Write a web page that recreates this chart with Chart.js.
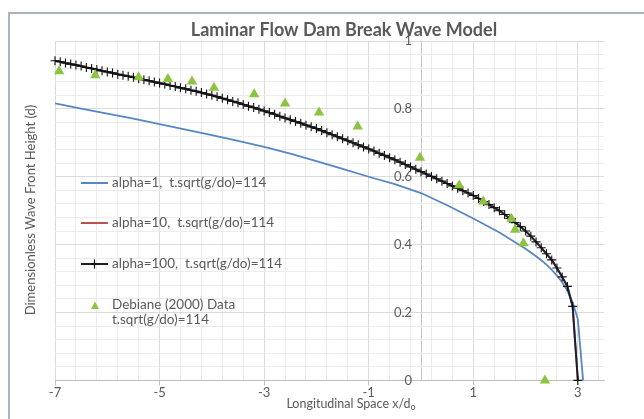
<!DOCTYPE html>
<html>
<head>
<meta charset="utf-8">
<title>Laminar Flow Dam Break Wave Model</title>
<script src="https://cdn.jsdelivr.net/npm/chart.js@4.4.1/dist/chart.umd.min.js"></script>
<style>
    html, body { margin: 0; padding: 0; background: #fff; }
    #wrap { position: relative; width: 644px; height: 419px; overflow: hidden; }
    #frame { position: absolute; left: 8px; top: 12px; width: 700px; height: 500px;
             border-left: 2px solid #a9b4c0; border-top: 2px solid #a9b4c0; }
    #damChart { position: absolute; left: 0; top: 0; }
</style>
</head>
<body>
<div id="wrap">
    <div id="frame"></div>
    <canvas id="damChart" width="644" height="419"></canvas>
</div>
<script>
// Longitudinal positions x/do of the model curves
var modelX = [-7.0, -6.9, -6.8, -6.7, -6.6, -6.5, -6.4, -6.3, -6.2, -6.1,
    -6.0, -5.9, -5.8, -5.7, -5.6, -5.5, -5.4, -5.3, -5.2, -5.1,
    -5.0, -4.9, -4.8, -4.7, -4.6, -4.5, -4.4, -4.3, -4.2, -4.1,
    -4.0, -3.9, -3.8, -3.7, -3.6, -3.5, -3.4, -3.3, -3.2, -3.1,
    -3.0, -2.9, -2.8, -2.7, -2.6, -2.5, -2.4, -2.3, -2.2, -2.1,
    -2.0, -1.9, -1.8, -1.7, -1.6, -1.5, -1.4, -1.3, -1.2, -1.1,
    -1.0, -0.9, -0.8, -0.7, -0.6, -0.5, -0.4, -0.3, -0.2, -0.1,
    0.0, 0.1, 0.2, 0.3, 0.4, 0.5, 0.6, 0.7, 0.8, 0.9,
    1.0, 1.1, 1.2, 1.3, 1.4, 1.5, 1.6, 1.7, 1.8, 1.9,
    2.0, 2.1, 2.2, 2.3, 2.4, 2.5, 2.6, 2.7, 2.8, 2.9,
    3.0];

// alpha=100 (alpha=10 lies underneath it)
var alpha100Y = [0.942, 0.939, 0.935, 0.932, 0.929, 0.926, 0.922, 0.919, 0.916, 0.912,
    0.909, 0.906, 0.902, 0.899, 0.896, 0.893, 0.889, 0.886, 0.883, 0.879,
    0.876, 0.873, 0.869, 0.866, 0.862, 0.859, 0.855, 0.852, 0.848, 0.844,
    0.840, 0.836, 0.831, 0.827, 0.822, 0.818, 0.813, 0.808, 0.804, 0.799,
    0.794, 0.789, 0.784, 0.778, 0.773, 0.768, 0.763, 0.758, 0.752, 0.747,
    0.742, 0.736, 0.730, 0.724, 0.718, 0.712, 0.706, 0.700, 0.694, 0.688,
    0.682, 0.676, 0.669, 0.663, 0.656, 0.650, 0.643, 0.636, 0.629, 0.622,
    0.615, 0.608, 0.601, 0.594, 0.587, 0.580, 0.573, 0.566, 0.559, 0.552,
    0.545, 0.536, 0.527, 0.518, 0.509, 0.500, 0.489, 0.477, 0.465, 0.453,
    0.440, 0.425, 0.408, 0.391, 0.373, 0.355, 0.331, 0.305, 0.277, 0.218,
    0];
var alpha10Y = alpha100Y;

// alpha=1
var alpha1X = [-7, -6.5, -6, -5.5, -5, -4.5, -4, -3.5, -3, -2.5, -2, -1.5, -1, -0.5,
    0, 0.5, 1.0, 1.5, 2.0, 2.1, 2.2, 2.3, 2.4, 2.5, 2.6, 2.7, 2.8, 2.9, 3.0, 3.1];
var alpha1Y = [0.816, 0.801, 0.786, 0.771, 0.755, 0.739, 0.723, 0.706, 0.688, 0.668, 0.646, 0.623, 0.600, 0.578,
    0.552, 0.516, 0.477, 0.436, 0.388, 0.377, 0.366, 0.354, 0.341, 0.326, 0.309, 0.289, 0.264, 0.230, 0.180, 0];

// Debiane (2000) measurements
var debianeX = [-6.92, -6.23, -5.40, -4.84, -4.38, -3.96, -3.19, -2.60, -1.95, -1.21,
    -0.02, 0.73, 1.19, 1.73, 1.80, 1.96, 2.37];
var debianeY = [0.911, 0.899, 0.893, 0.888, 0.881, 0.862, 0.843, 0.816, 0.789, 0.748,
    0.656, 0.575, 0.527, 0.476, 0.444, 0.404, 0];

// axis ticks / gridlines (0 is the vertical axis line)
var xGrid = [-7, -6.6, -6.2, -5.8, -5.4, -5, -4.6, -4.2, -3.8, -3.4, -3, -2.6, -2.2, -1.8,
    -1.4, -1, -0.6, -0.2, 0, 0.2, 0.6, 1, 1.4, 1.8, 2.2, 2.6, 3, 3.4];
var xLabels = [-7, -5, -3, -1, 1, 3];
var yLabels = [0, 0.2, 0.4, 0.6, 0.8, 1];

var seriesNames = ['alpha=1,  t.sqrt(g/do)=114', 'alpha=10,  t.sqrt(g/do)=114',
    'alpha=100,  t.sqrt(g/do)=114', 'Debiane (2000) Data'];

var FONT = 'Lato, "Open Sans", "DejaVu Sans", sans-serif';
var TEXT = '#595959';

function points(xs, ys) {
    return xs.map(function(x, i) { return { x: x, y: ys[i] }; });
}
function isMajorX(v) {
    return xLabels.some(function(m) { return Math.abs(m - v) < 1e-6; });
}
function isMajorY(v) {
    return yLabels.some(function(m) { return Math.abs(m - v) < 1e-6; });
}

// Title, axis titles and the floating legend
var overlay = {
    id: 'overlay',
    afterDraw: function(chart) {
        var c = chart.ctx;
        var ds = chart.data.datasets;
        c.save();
        c.fillStyle = TEXT;
        c.textBaseline = 'middle';

        c.font = 'bold 18px ' + FONT;
        c.textAlign = 'center';
        c.fillText('Laminar Flow Dam Break Wave Model', 344, 30);

        // y title
        c.save();
        c.translate(31, 210);
        c.rotate(-Math.PI / 2);
        c.font = '13px ' + FONT;
        c.fillText('Dimensionless Wave Front Height (d)', 0, 0);
        c.restore();

        // x title with subscript o
        c.font = '12.5px ' + FONT;
        var main = 'Longitudinal Space x/d';
        var w1 = c.measureText(main).width;
        c.font = '9px ' + FONT;
        var w2 = c.measureText('o').width;
        var sx = 351 - (w1 + w2) / 2;
        c.textAlign = 'left';
        c.font = '12.5px ' + FONT;
        c.fillText(main, sx, 404);
        c.font = '9px ' + FONT;
        c.fillText('o', sx + w1, 407);

        // legend
        var rows = [183, 223, 264];
        c.font = '13.5px ' + FONT;
        for (var i = 0; i < 3; i++) {
            c.strokeStyle = ds[i].borderColor;
            c.lineWidth = 2;
            c.beginPath();
            c.moveTo(81, rows[i]);
            c.lineTo(108, rows[i]);
            c.stroke();
            c.fillStyle = TEXT;
            c.fillText(seriesNames[i], 112, rows[i]);
        }
        c.strokeStyle = '#111';
        c.lineWidth = 1.2;
        c.beginPath();
        c.moveTo(94.5, 259.5); c.lineTo(94.5, 268.5);
        c.moveTo(90, 264); c.lineTo(99, 264);
        c.stroke();

        c.fillStyle = ds[3].backgroundColor;
        c.beginPath();
        c.moveTo(95, 301.5);
        c.lineTo(99, 309);
        c.lineTo(91, 309);
        c.closePath();
        c.fill();
        c.fillStyle = TEXT;
        c.fillText(seriesNames[3], 112, 305);
        c.fillText('t.sqrt(g/do)=114', 112, 320);
        c.restore();
    }
};

var ctx = document.getElementById('damChart').getContext('2d');
var damChart = new Chart(ctx, {
    type: 'scatter',
    data: {
        datasets: [{
            label: seriesNames[0],
            data: points(alpha1X, alpha1Y),
            showLine: true,
            borderColor: '#5686c4',
            backgroundColor: '#5686c4',
            borderWidth: 1.8,
            pointRadius: 0,
            order: 3
        }, {
            label: seriesNames[1],
            data: points(modelX, alpha10Y),
            showLine: true,
            borderColor: '#b9514d',
            backgroundColor: '#b9514d',
            borderWidth: 1.8,
            pointRadius: 0,
            order: 2
        }, {
            label: seriesNames[2],
            data: points(modelX, alpha100Y),
            showLine: true,
            borderColor: '#1b2130',
            backgroundColor: '#1b2130',
            borderWidth: 2,
            pointStyle: 'cross',
            pointRadius: 4.5,
            pointBorderColor: '#111',
            pointBorderWidth: 1.1,
            clip: false,
            order: 1
        }, {
            label: seriesNames[3],
            data: points(debianeX, debianeY),
            showLine: false,
            pointStyle: 'triangle',
            pointRadius: 6,
            backgroundColor: '#8cc43f',
            borderColor: '#8cc43f',
            pointBorderWidth: 0,
            clip: false,
            order: 0
        }]
    },
    options: {
        responsive: false,
        animation: false,
        layout: { padding: { left: 55, right: 40, top: 41, bottom: 18 } },
        plugins: {
            legend: { display: false },
            title: { display: false },
            tooltip: { enabled: false }
        },
        scales: {
            x: {
                type: 'linear',
                min: -7,
                max: 3.5,
                afterBuildTicks: function(scale) {
                    scale.ticks = xGrid.map(function(v) { return { value: v }; });
                },
                border: { display: true, color: '#bfbfbf', width: 1 },
                grid: {
                    color: function(c) {
                        if (Math.abs(c.tick.value) < 1e-6) { return '#c4c4c4'; }
                        return isMajorX(c.tick.value) ? '#dadada' : '#ececec';
                    },
                    tickColor: function(c) { return isMajorX(c.tick.value) ? '#bfbfbf' : 'rgba(0,0,0,0)'; },
                    tickLength: 5
                },
                ticks: {
                    autoSkip: false,
                    maxRotation: 0,
                    padding: 0,
                    color: TEXT,
                    font: { family: FONT, size: 13 },
                    callback: function(v) { return isMajorX(v) ? String(Math.round(v)) : ''; }
                }
            },
            y: {
                type: 'linear',
                // labels sit just left of the x = 0 axis line
                position: { x: -0.17 },
                min: 0,
                max: 1,
                afterBuildTicks: function(scale) {
                    var t = [];
                    for (var k = 0; k <= 25; k++) { t.push({ value: k * 0.04 }); }
                    scale.ticks = t;
                },
                border: { display: false },
                grid: {
                    color: function(c) { return isMajorY(c.tick.value) ? '#dadada' : '#ececec'; },
                    drawTicks: false
                },
                ticks: {
                    autoSkip: false,
                    color: TEXT,
                    font: { family: FONT, size: 13 },
                    callback: function(v) {
                        for (var i = 0; i < yLabels.length; i++) {
                            if (Math.abs(yLabels[i] - v) < 1e-6) { return String(yLabels[i]); }
                        }
                        return '';
                    }
                }
            }
        }
    },
    plugins: [overlay]
});
</script>
</body>
</html>
